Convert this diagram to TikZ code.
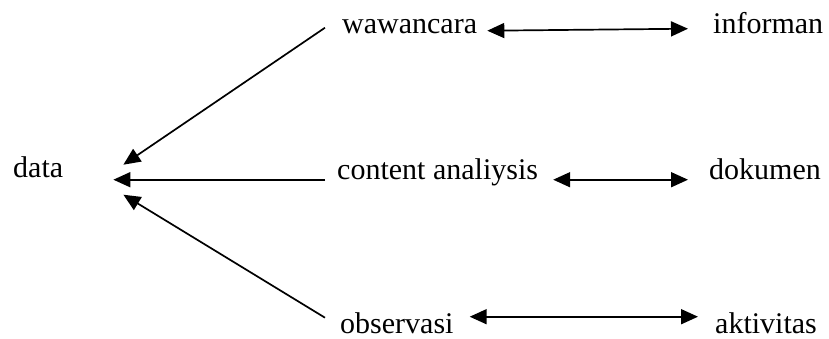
\documentclass[tikz,border=0pt]{standalone}
\usepackage{fontspec}
\setmainfont{Liberation Serif}
\usetikzlibrary{arrows.meta}

\begin{document}
\begin{tikzpicture}[x=1pt, y=-1pt,
    every node/.style={font=\fontsize{30}{36}\selectfont, inner sep=0pt, anchor=base west},
    towards/.style={line width=1.7pt, -{Triangle[length=17pt, width=15pt]}},
    both/.style={line width=1.7pt, {Triangle[length=17pt, width=15pt]}-{Triangle[length=17pt, width=15pt]}}
  ]
  \useasboundingbox (0,0) rectangle (829,338);

  % sumber data
  \node (data) at (13,177) {data};
  \node (wawancara) at (342,33) {wawancara};
  \node (content) at (337,179) {content analiysis};
  \node (observasi) at (340,333) {observasi};

  % objek tiap teknik
  \node (informan) at (713,33) {informan};
  \node (dokumen) at (709,179) {dokumen};
  \node (aktivitas) at (715,333) {aktivitas};

  % teknik -> data
  \draw[towards] ([xshift=-17pt, yshift=3pt]wawancara.mid west)
    -- ([xshift=60pt, yshift=10pt]data.mid east);
  \draw[towards] ([xshift=-12pt, yshift=-3pt]content.mid west)
    -- ([xshift=50pt, yshift=-5pt]data.mid east);
  \draw[towards] ([xshift=-15pt, yshift=13pt]observasi.mid west)
    -- ([xshift=60pt, yshift=-20pt]data.mid east);

  % teknik <-> objek
  \draw[both] ([xshift=10pt]wawancara.mid east)
    -- ([xshift=-25pt, yshift=2pt]informan.mid west);
  \draw[both] ([xshift=15pt, yshift=-3pt]content.mid east)
    -- ([xshift=-21pt, yshift=-3pt]dokumen.mid west);
  \draw[both] ([xshift=16pt, yshift=14pt]observasi.mid east)
    -- ([xshift=-17pt, yshift=14pt]aktivitas.mid west);
\end{tikzpicture}
\end{document}
